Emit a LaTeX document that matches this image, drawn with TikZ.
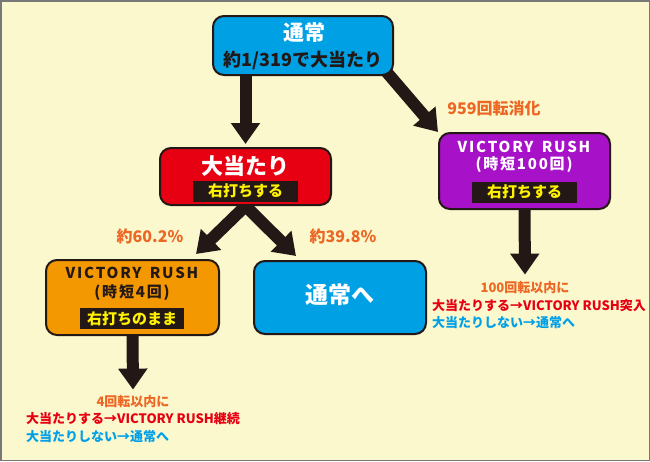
\documentclass[tikz,border=0pt]{standalone}
\usepackage{fontspec}
\setmainfont{Noto Sans CJK JP}
\newfontfamily\vrfont{Noto Sans CJK JP}[LetterSpace=12]
\usetikzlibrary{arrows.meta,calc,backgrounds}
\definecolor{mybg}{RGB}{252,248,205}
\definecolor{myframe}{RGB}{120,120,120}
\definecolor{myblue}{RGB}{0,160,228}
\definecolor{myred}{RGB}{230,0,18}
\definecolor{mypurple}{RGB}{167,17,200}
\definecolor{myorange}{RGB}{243,152,0}
\definecolor{mylabel}{RGB}{236,102,36}
\definecolor{myyellow}{RGB}{255,241,0}
\definecolor{myblack}{RGB}{35,24,21}
\definecolor{mysky}{RGB}{0,160,233}

\begin{document}
\begin{tikzpicture}[x=1pt, y=-1pt,
    box/.style={draw=myblack, line width=2pt, rounded corners=11pt, inner sep=0pt},
    bigarrow/.style={draw=myblack, line width=12pt, -{Triangle[width=28pt, length=21pt]}},
    tag/.style={fill=myblack, text=myyellow, inner sep=0pt, minimum width=105pt, minimum height=21pt, font=\bfseries\fontsize{15}{15}\selectfont},
    vr/.style={inner sep=0pt, font=\vrfont\bfseries\fontsize{15}{15}\selectfont},
    lbl/.style={text=mylabel, inner sep=0pt, font=\bfseries\fontsize{16}{16}\selectfont},
    note/.style={inner sep=0pt, font=\bfseries\fontsize{13}{13}\selectfont}]
    \useasboundingbox (0,0) rectangle (650,461);

    % The boxes.
    \node[box, fill=myblue, minimum width=180pt, minimum height=59pt] (tsujo) at (303,45.5) {};
    \node[box, fill=myred, minimum width=171pt, minimum height=57pt] (ooatari) at (245.5,176.5) {};
    \node[box, fill=mypurple, minimum width=171pt, minimum height=76pt] (rush100) at (524.5,171) {};
    \node[box, fill=myorange, minimum width=173pt, minimum height=75pt] (rush4) at (132.5,297.5) {};
    \node[box, fill=myblue, minimum width=172pt, minimum height=73pt] (tsujohe) at (340,297.5) {};

    % Texts in the boxes.
    \node[white, inner sep=0pt, font=\bfseries\fontsize{21}{21}\selectfont] (tsujoT) at (304,33) {通常};
    \node[myblack, inner sep=0pt, font=\bfseries\fontsize{18}{18}\selectfont] (tsujoS) at (303,60) {約1/319で大当たり};
    \node[white, inner sep=0pt, font=\bfseries\fontsize{22}{22}\selectfont] (ooatariT) at (245.5,166) {大当たり};
    \node[tag] (ooatariR) at (245.5,191) {右打ちする};
    \node[vr, white] (rush100T) at (524,147) {VICTORY \hspace{3pt}RUSH};
    \node[vr, white] (rush100S) at (524,165) {(時短100回)};
    \node[tag] (rush100R) at (524.5,192) {右打ちする};
    \node[vr, myblack] (rush4T) at (132,273) {VICTORY \hspace{3pt}RUSH};
    \node[vr, myblack] (rush4S) at (132,293) {(時短4回)};
    \node[tag, minimum width=104pt] (rush4R) at (132,318.5) {右打ちのまま};
    \node[white, inner sep=0pt, font=\bfseries\fontsize{23}{23}\selectfont] (tsujoheT) at (340,295) {通常へ};

    % Labels on the arrows.
    \node[lbl] (lbl959) at (494,108) {959回転消化};
    \node[lbl] (lbl602) at (150,236) {約60.2\%};
    \node[lbl] (lbl398) at (343,236) {約39.8\%};

    % Notes under the arrows.
    \node[note, text=mylabel] (note100a) at (525,288) {100回転以内に};
    \node[note, text=myred, anchor=west] (note100b) at (432,306) {大当たりする→VICTORY RUSH突入};
    \node[note, text=mysky, anchor=west] (note100c) at (432,323) {大当たりしない→通常へ};
    \node[note, text=mylabel] (note4a) at (133,402) {4回転以内に};
    \node[note, text=myred, anchor=west] (note4b) at (26,419) {大当たりする→VICTORY RUSH継続};
    \node[note, text=mysky, anchor=west] (note4c) at (26,437) {大当たりしない→通常へ};

    \begin{pgfonlayer}{background}
        \fill[mybg] (0,0) rectangle (650,461);
        \draw[myframe, line width=1.5pt] (0.75,0.75) rectangle (649.25,460.25);
        \draw[bigarrow] (tsujo.south -| ooatari.north) -- ($(ooatari.north)+(0,-3)$);
        \draw[bigarrow, shorten <=-12pt] ($(tsujo.south east)+(-4,0)$) -- (rush100.north west);
        \draw[bigarrow, shorten <=-10pt] (ooatari.south) -- ($(rush4.north east)+(-24,-5)$);
        \draw[bigarrow, shorten <=-10pt] (ooatari.south) -- ($(tsujohe.north west)+(43,-4)$);
        \draw[bigarrow] (rush4.south) -- ($(note4a.north)+(0,-6)$);
        \draw[bigarrow] (rush100.south) -- ($(note100a.north)+(0,-7)$);
    \end{pgfonlayer}
\end{tikzpicture}
\end{document}
